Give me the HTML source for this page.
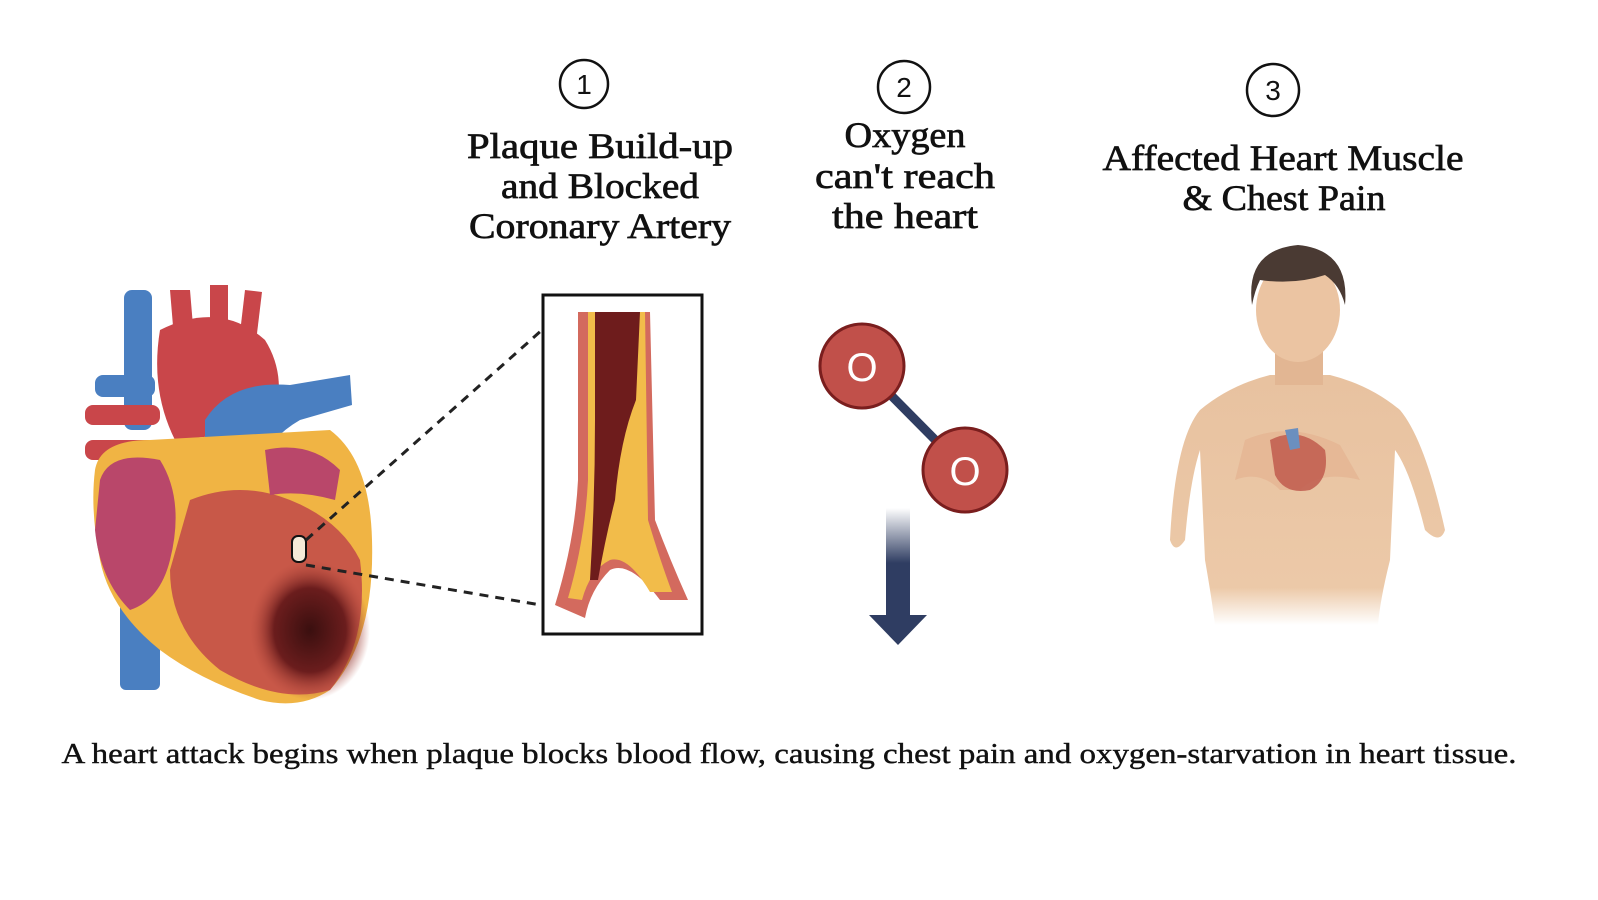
<!DOCTYPE html>
<html><head><meta charset="utf-8"><style>
html,body{margin:0;padding:0;background:#fff;}
body{width:1598px;height:900px;overflow:hidden;}
svg{display:block}
.h{font-family:"Liberation Serif","DejaVu Serif",serif;font-size:36px;fill:#111;stroke:#111;stroke-width:0.7;text-anchor:middle;}
.n{font-family:"Liberation Sans",sans-serif;font-size:28px;fill:#111;text-anchor:middle;}
</style></head><body>
<svg width="1598" height="900" viewBox="0 0 1598 900">
<defs>
<linearGradient id="ag" x1="0" y1="0" x2="0" y2="1">
<stop offset="0" stop-color="#2f3d62" stop-opacity="0"/>
<stop offset="0.5" stop-color="#2f3d62"/>
<stop offset="1" stop-color="#2f3d62"/>
</linearGradient>
<radialGradient id="dmg" cx="0.5" cy="0.5" r="0.5">
<stop offset="0" stop-color="#3a0f0f"/><stop offset="0.6" stop-color="#6b1d1d"/><stop offset="1" stop-color="#b54a3e" stop-opacity="0"/>
</radialGradient>
<linearGradient id="fade" x1="0" y1="0" x2="0" y2="1">
<stop offset="0" stop-color="#e8c2a0"/><stop offset="0.85" stop-color="#ecc9a8"/><stop offset="1" stop-color="#fff"/>
</linearGradient>
</defs>

<circle cx="584" cy="84" r="24" fill="#fff" stroke="#111" stroke-width="2.5"/>
<text class="n" x="584" y="94">1</text>
<circle cx="904" cy="87" r="26" fill="#fff" stroke="#111" stroke-width="2.5"/>
<text class="n" x="904" y="97">2</text>
<circle cx="1273" cy="90" r="26" fill="#fff" stroke="#111" stroke-width="2.5"/>
<text class="n" x="1273" y="100">3</text>

<text class="h" x="600" y="158" textLength="266" lengthAdjust="spacingAndGlyphs">Plaque Build-up</text>
<text class="h" x="600" y="198" textLength="198" lengthAdjust="spacingAndGlyphs">and Blocked</text>
<text class="h" x="600" y="238" textLength="262" lengthAdjust="spacingAndGlyphs">Coronary Artery</text>
<text class="h" x="905" y="147" textLength="121" lengthAdjust="spacingAndGlyphs">Oxygen</text>
<text class="h" x="905" y="188" textLength="180" lengthAdjust="spacingAndGlyphs">can't reach</text>
<text class="h" x="905" y="228" textLength="146" lengthAdjust="spacingAndGlyphs">the heart</text>
<text class="h" x="1283" y="170" textLength="361" lengthAdjust="spacingAndGlyphs">Affected Heart Muscle</text>
<text class="h" x="1284" y="210" textLength="203" lengthAdjust="spacingAndGlyphs">&amp; Chest Pain</text>

<g>
<rect x="124" y="290" width="28" height="140" rx="8" fill="#4a7fc1"/>
<rect x="120" y="600" width="40" height="90" rx="6" fill="#4a7fc1"/>
<rect x="95" y="375" width="60" height="22" rx="8" fill="#4a7fc1"/>
<path d="M170 290 L190 290 L195 350 L175 350Z" fill="#c9464a"/>
<path d="M210 285 L228 285 L228 350 L210 350Z" fill="#c9464a"/>
<path d="M245 290 L262 292 L255 350 L238 350Z" fill="#c9464a"/>
<path d="M160 330 Q220 300 265 340 Q290 380 270 430 L175 440 Q150 390 160 330Z" fill="#c9464a"/>
<rect x="85" y="405" width="75" height="20" rx="8" fill="#c9464a"/>
<rect x="85" y="440" width="75" height="20" rx="8" fill="#c9464a"/>
<path d="M205 420 Q230 380 290 385 L350 375 L352 405 L300 420 Q265 440 250 480 L205 470Z" fill="#4a7fc1"/>
<path d="M95 470 Q100 440 150 440 L330 430 Q370 460 372 540 Q375 640 330 690 Q300 710 260 700 Q200 680 160 650 Q110 610 100 560 Q90 510 95 470Z" fill="#f0b444"/>
<path d="M100 480 Q110 450 160 460 Q185 500 170 560 Q160 600 130 610 Q100 580 95 530Z" fill="#b9476a"/>
<path d="M190 500 Q240 480 290 500 Q340 520 360 560 Q370 640 330 690 Q280 705 220 670 Q170 630 170 570Z" fill="#c85848"/>
<path d="M265 450 Q310 440 340 470 L335 500 Q300 490 270 495Z" fill="#b9476a"/>
<ellipse cx="310" cy="630" rx="60" ry="70" fill="url(#dmg)"/>
<rect x="292" y="536" width="14" height="26" rx="6" fill="#f5ead8" stroke="#111" stroke-width="2"/>
</g>
<line x1="306" y1="540" x2="542" y2="330" stroke="#222" stroke-width="3" stroke-dasharray="9 7"/>
<line x1="306" y1="565" x2="582" y2="612" stroke="#222" stroke-width="3" stroke-dasharray="9 7"/>

<rect x="543" y="295" width="159" height="339" fill="#fff" stroke="#111" stroke-width="3"/>
<path d="M578 312 L650 312 L655 520 Q670 560 688 600 L660 600 Q630 560 610 570 Q590 590 585 618 L555 605 Q575 540 578 480Z" fill="#d36a5e"/>
<path d="M588 312 L645 312 L648 520 Q660 560 672 592 L650 592 Q628 555 610 560 Q590 570 582 600 L568 598 Q585 540 588 480Z" fill="#f2bc4a"/>
<path d="M595 312 L640 312 L636 400 Q620 440 615 500 Q605 540 598 580 L590 580 Q595 500 595 420Z" fill="#6e1c1c"/>

<line x1="862" y1="366" x2="965" y2="470" stroke="#2f3d62" stroke-width="9"/>
<circle cx="862" cy="366" r="42" fill="#c1504a" stroke="#7a1e1e" stroke-width="3"/>
<circle cx="965" cy="470" r="42" fill="#c1504a" stroke="#7a1e1e" stroke-width="3"/>
<text x="862" y="381" font-family="Liberation Sans,sans-serif" font-size="40" fill="#fff" text-anchor="middle">O</text>
<text x="965" y="485" font-family="Liberation Sans,sans-serif" font-size="40" fill="#fff" text-anchor="middle">O</text>
<rect x="886" y="508" width="24" height="110" fill="url(#ag)"/>
<polygon points="869,615 927,615 898,645" fill="#2f3d62"/>

<g>
<path d="M1170 540 Q1175 440 1200 410 Q1230 385 1270 375 L1330 375 Q1370 385 1400 410 Q1425 440 1445 530 Q1440 545 1425 530 Q1410 470 1395 450 L1390 560 Q1380 600 1378 625 L1215 625 Q1212 600 1205 560 L1200 450 Q1190 480 1185 540 Q1175 555 1170 540Z" fill="url(#fade)"/>
<rect x="1275" y="330" width="48" height="55" fill="#e2b693"/>
<ellipse cx="1298" cy="310" rx="42" ry="52" fill="#ebc4a2"/>
<path d="M1252 305 Q1245 250 1298 245 Q1350 250 1345 305 Q1340 285 1325 275 Q1295 285 1260 280 Q1255 290 1252 305Z" fill="#4a3a33"/>
<path d="M1245 440 Q1290 420 1340 445 L1360 480 Q1320 470 1300 490 L1280 490 Q1260 470 1235 480Z" fill="#e6b896"/>
<path d="M1270 440 Q1300 425 1325 450 Q1330 480 1310 490 Q1285 495 1275 475Z" fill="#c05a4e" opacity="0.85"/>
<path d="M1285 430 L1290 450 L1300 448 L1298 428Z" fill="#6b8fbf"/>
</g>

<text x="789" y="763" font-family="Liberation Serif,serif" font-size="28" fill="#111" stroke="#111" stroke-width="0.4" text-anchor="middle" textLength="1455" lengthAdjust="spacingAndGlyphs">A heart attack begins when plaque blocks blood flow, causing chest pain and oxygen-starvation in heart tissue.</text>
</svg>
</body></html>
